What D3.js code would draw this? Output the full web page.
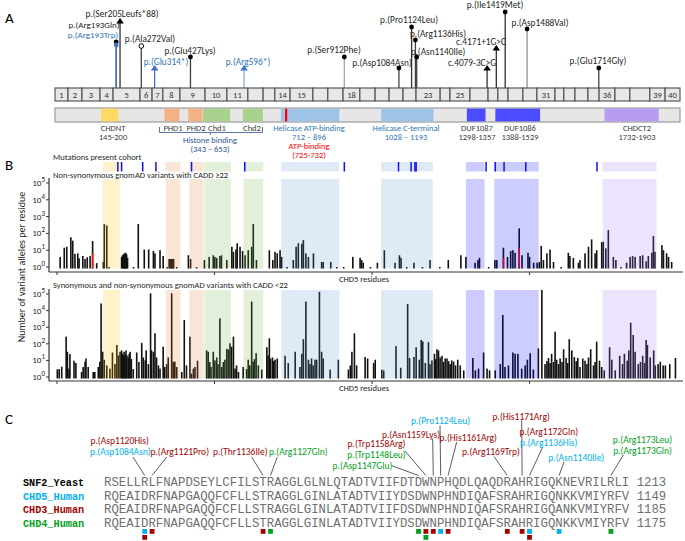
<!DOCTYPE html>
<html><head><meta charset="utf-8">
<script src="https://cdn.jsdelivr.net/npm/d3@7"></script>
<style>body{margin:0;background:#fff}svg{display:block}</style>
</head><body><svg id="c" width="685" height="541"></svg>
<script>
// ---------------- DATA ----------------
const proteinExtent = 1970;
const exonBounds = [0,41,85,142,183,268,306,340,394,473,542,608,656,693,741,813,860,908,961,1009,1053,1097,1138,1214,1245,1308,1365,1396,1428,1475,1519,1576,1604,1639,1680,1715,1765,1812,1875,1923,1970];
const exonLabels = ["1","2","3","4","5","6","7","8","9","10","11","","","14","15","","","18","","","","","23","","25","","","","","","31","","","","","36","","","39","40"];

const domainNames  = ["CHDNT","PHD1","PHD2","Chd1","Chd2","Helicase ATP-binding","Helicase C-terminal","DUF1087","DUF1086","CHDCT2"];
const domainStarts = [145,345,420,467,592,712,1028,1298,1388,1732];
const domainEnds   = [200,392,465,552,655,896,1193,1357,1529,1903];
const domainKinds  = ["chdnt","phd","phd","chd","chd","hel","hel","duf","duf","chdct"];
const atpBinding = [725,732];

const cohortLabels   = ["p.(Arg193Gln)","p.(Arg193Trp)","p.(Ser205Leufs*88)","p.(Ala272Val)","p.(Glu314*)","p.(Glu427Lys)","p.(Arg596*)","p.(Ser912Phe)","p.(Asp1084Asn)","p.(Pro1124Leu)","p.(Arg1136His)","p.(Asn1140Ile)","c.4079-3C>G","c.4171+1G>C","p.(Ile1419Met)","p.(Asp1488Val)","p.(Glu1714Gly)"];
const cohortResidues = [193,193,205,272,314,427,596,912,1084,1124,1136,1140,1362,1391,1419,1488,1714];
const cohortMarkers  = ["dot","dot","tri","open","tri","dot","tri","dot","dot","dot","dot","dot","tri","tri","dot","dot","dot"];
const cohortBlue     = [false,true,false,false,true,false,true,false,false,false,false,false,false,false,false,false,false];

// non-synonymous gnomAD variants with CADD >= 22 : [residue, alleles]
const nonSynHigh = [[10,4],[23,14],[31,16],[44,59],[50,37],[57,6],[66,6.5],[70,3.3],[82,4.5],[89,3],[96,3.8],[105,4.5],[113,35],[126,1.7],
[147,2],[150,360],[158,300],[165,1],[205,4],[208,5],[211,5.5],[213,6],[215,6.5],[217,7],[219,6.5],[221,5.5],[224,3.5],[243,1],[258,360],
[277,11],[291,11],[306,9],[311,6.5],[327,10],[337,4.5],[350,1],[356,3],[359,3],[362,3],[365,3],[368,3],[370,3],[380,1],[417,5],[424,3],[443,1],
[468,2.6],[483,4],[496,5],[501,4],[507,3.5],[517,4.5],[522,5],[539,2.6],[555,16],[560,8],[568,11],[572,26],[581,16],[589,9],[597,5],[607,10],
[618,16],[623,360],[633,2.6],[674,10],[685,2.6],[692,8],[699,6.5],[708,10],[713,4],[730,1],[750,2.6],[759,16],[766,26],[777,24],[782,40],
[790,6.5],[798,4],[814,6.5],[840,2],[845,2],[869,2],[888,1],[910,1],[939,4],[962,3.5],[967,2.6],[972,1.8],[995,1],[1017,1.8],[1039,10],
[1073,1.8],[1087,5],[1092,3.5],[1110,1],[1133,1.8],[1160,1],[1184,2.6],[1215,1],[1242,2.6],[1282,5],[1298,4],[1327,1.8],[1336,2.6],[1341,3.5],
[1370,1],[1390,2.6],[1396,2.6],[1417,14],[1430,4],[1440,9],[1447,10],[1454,7],[1467,200],[1476,5],[1495,7],[1500,4],[1513,1.8],[1524,1.8],
[1531,2],[1537,18],[1544,2.6],[1555,6.5],[1565,11],[1576,2],[1600,1],[1623,7],[1628,4.5],[1639,3.5],[1655,1.8],[1660,2.6],[1676,6.5],[1687,16],
[1697,44],[1708,6.5],[1713,10],[1729,30],[1734,32],[1742,13],[1750,160],[1766,4],[1774,2.6],[1790,1],[1808,1.8],[1819,4],[1827,4.5],[1835,4],
[1851,4.5],[1859,5],[1870,2.2],[1877,4.5],[1888,7],[1893,70],[1898,8],[1920,20],[1925,10],[1935,6.5],[1941,4],[1951,2]];
// portions of bars coinciding with cohort variants (red)
const nonSynHighCohort = [[113,6.7],[1417,3.5],[1467,13]];

// synonymous and non-synonymous gnomAD variants with CADD < 22
const synLow = [[1,2.9],[7,3],[15,4.2],[29,270],[33,33],[38,3.2],[41,24],[54,9.6],[60,7],[78,2],[83,4],[89,8.4],[92,13],[99,4],[115,2],[120,2],
[131,4],[136,8.4],[140,27000],[145,33],[150,11],[158,5],[168,3.2],[176,30],[184,6],[190,85],[195,20],[200,33],[205,40],[208,25],[211,18],[213,33],
[216,22],[219,40],[222,20],[226,15],[229,25],[232,33],[236,12],[242,3],[253,30],[260,8],[269,115],[274,15],[280,10],[283,40],[290,6],[297,110000],
[300,40],[306,33],[311,430],[316,15],[322,5],[327,3.2],[337,67],[342,4],[348,6],[353,15],[364,110000],[369,8.4],[374,8.4],[380,4],[396,2],[404,2700],
[411,5],[422,270],[427,1.6],[433,3.2],[438,4],[446,9.6],[475,40],[480,33],[485,8],[489,4],[496,33],[501,10],[507,15],[511,6],[517,3400],[523,4],
[528,8],[533,11],[539,50],[544,45],[549,107],[554,67],[560,270],[565,3.2],[570,5],[576,2],[591,4],[602,3],[607,11],[612,5],[618,35000],[623,8.4],
[627,12],[632,27],[639,5],[650,2.8],[666,62],[670,20],[674,215],[678,13],[684,15],[688,9],[692,11],[699,13],[724,19],[734,7],[756,33],[771,4],
[777,25],[782,190],[790,35000],[798,11],[803,6],[808,13],[813,5],[819,11],[824,11],[833,135000],[840,33],[845,13],[867,2.8],[893,11],
[925,2.8],[931,5],[936,33],[944,430],[951,5],[978,16],[986,13],[1005,7],[1010,11],[1031,2.8],[1037,2.5],[1076,73],[1091,3.6],[1113,25000],
[1119,14],[1133,16],[1140,62],[1150,11],[1156,170],[1161,140],[1169,7],[1179,125],[1184,6],[1190,10],[1198,25],[1202,12],[1206,47],[1211,40],
[1216,15],[1222,19],[1227,8],[1232,13],[1238,13],[1243,9],[1248,6],[1253,10],[1259,8.4],[1265,5],[1272,11],[1280,5],[1291,2.5],[1320,14],
[1328,2.5],[1338,3.2],[1354,30],[1365,3.2],[1373,2.5],[1391,2.5],[1407,6],[1415,5500],[1422,4],[1433,5],[1447,30],[1454,25],[1463,25],[1475,3.2],
[1486,5],[1493,11],[1502,27],[1512,2.8],[1528,53],[1539,175000],[1549,6],[1555,9],[1560,14],[1565,7],[1570,25],[1576,8],[1581,530],[1586,11],
[1592,6],[1597,13],[1603,8],[1608,47],[1616,14],[1621,7],[1626,190],[1634,40],[1642,16],[1648,9],[1653,14],[1660,4],[1669,13],[1676,9.6],
[1682,6],[1687,15],[1694,47],[1703,5],[1708,8],[1713,135],[1722,9.6],[1729,4],[1737,2.5],[1754,62],[1761,11],[1772,2.5],[1786,19],[1795,6],
[1801,25],[1810,9.6],[1815,40],[1821,1850],[1829,340],[1835,33],[1845,6],[1852,8],[1859,19],[1865,7],[1870,170],[1874,85],[1883,15],[1894,40],
[1899,5],[1908,6],[1915,8.4],[1924,5],[1931,5],[1945,6],[1963,14]];

const yTickExponents = [0,1,2,3,4,5];
const xTickResidues = [0,500,1000,1500];

// Panel C alignment
const alignNames = ["SNF2_Yeast","CHD5_Human","CHD3_Human","CHD4_Human"];
const alignSeqs = [
 "RSELLRLFNAPDSEYLCFILSTRAGGLGLNLQTADTVIIFDTDWNPHQDLQAQDRAHRIGQKNEVRILRLI",
 "RQEAIDRFNAPGAQQFCFLLSTRAGGLGINLATADTVIIYDSDWNPHNDIQAFSRAHRIGQNKKVMIYRFV",
 "RQEAIDRFNAPGAQQFCFLLSTRAGGLGINLATADTVIIFDSDWNPHNDIQAFSRAHRIGQANKVMIYRFV",
 "RQEAIDRFNAPGAQQFCFLLSTRAGGLGINLATADTVIIYDSDWNPHNDIQAFSRAHRIGQNKKVMIYRFV"];
const alignEnds = ["1213","1149","1185","1175"];
const alignGroups = ["yeast","chd5","chd3","chd4"];
// mutations: label, alignment column, gene
const alignMutLabels = ["p.(Asp1120His)","p.(Asp1084Asn)","p.(Arg1121Pro)","p.(Thr1136Ile)","p.(Arg1127Gln)","p.(Asp1147Glu)","p.(Trp1148Leu)","p.(Trp1158Arg)","p.(Asn1159Lys)","p.(Pro1124Leu)","p.(His1161Arg)","p.(His1171Arg)","p.(Arg1169Trp)","p.(Arg1172Gln)","p.(Arg1136His)","p.(Asn1140Ile)","p.(Arg1173Leu)","p.(Arg1173Gln)"];
const alignMutCols   = [5,5,6,21,22,42,43,43,44,45,46,56,54,57,57,61,68,68];
const alignMutGenes  = ["chd3","chd5","chd3","chd3","chd4","chd4","chd4","chd3","chd3","chd5","chd3","chd3","chd3","chd3","chd5","chd5","chd4","chd4"];

// ---------------- STYLE / LAYOUT ----------------
const FONT = "Carlito, Calibri, Lato, 'Liberation Sans', sans-serif";
const MONO = "'Liberation Mono', 'DejaVu Sans Mono', monospace";
const kindFill = {chdnt:"#ffd966", phd:"#f4b183", chd:"#a9d18e", hel:"#9dc3e6", duf:"#4b4bff", chdct:"#b89cf2"};
const kindBand = {chdnt:"#ffc000", phd:"#ed7d31", chd:"#70ad47", hel:"#5b9bd5", duf:"#0000ff", chdct:"#9c78f0"};
const geneColor = {yeast:"#000000", chd5:"#00b0f0", chd3:"#a50000", chd4:"#00a020"};
const BLUE = "#2e75b6";

// lollipop layout: head y, label centre x, label baseline
const lolHead = [42,45,19,46,66,57,66,57,68,27,40,57,66,46,12,29,68];
const lolLabX = [94,93,122,150,166,190,248,334,382,409,438,438,472,481,495,540,598];
const lolLabY = [27.5,38,17,42,65,54,65,53,66,23,37,55,66,45,8,26,64];
const lolSize = [9,9,9.3,9.3,9.3,9.3,9.3,9.3,9.3,9.3,9.3,9.3,9.3,9.3,9.3,9.3,9.3];
const lolStem = ["#404040","#4472c4","#303030","#404040","#4472c4","#404040","#8faadc","#a6a6a6","#404040","#303030","#404040","#404040","#303030","#303030","#303030","#909090","#404040"];

const svg = d3.select("#c");
svg.append("rect").attr("width",685).attr("height",541).attr("fill","#fff");

function txt(g, x, y, s, opt={}) {
  return g.append("text").attr("x",x).attr("y",y).text(s)
    .attr("font-family", opt.family||FONT).attr("font-size", opt.size||9)
    .attr("fill", opt.color||"#262626").attr("text-anchor", opt.anchor||"middle")
    .attr("font-weight", opt.weight||"normal");
}

// panel letters
txt(svg,5,23,"A",{size:15,anchor:"start",color:"#000"});
txt(svg,5,170,"B",{size:15,anchor:"start",color:"#000"});
txt(svg,5,424,"C",{size:15,anchor:"start",color:"#000"});

// ---------------- PANEL A ----------------
const xA = d3.scaleLinear().domain([0, proteinExtent]).range([55, 680]);
const gA = svg.append("g");
const exonTop = 88, exonBot = 101, domTop = 108, domBot = 122;

const lolIdx = d3.range(cohortLabels.length);
gA.selectAll("line.stem").data(lolIdx).join("line")
  .attr("x1", i=>xA(cohortResidues[i])).attr("x2", i=>xA(cohortResidues[i]))
  .attr("y1", i=>lolHead[i]).attr("y2", exonTop)
  .attr("stroke", i=>lolStem[i]).attr("stroke-width",1.3);

lolIdx.forEach(i=>{
  const x = xA(cohortResidues[i]), y = lolHead[i];
  const col = cohortBlue[i] ? "#4472c4" : "#000";
  if (cohortMarkers[i]==="dot") gA.append("circle").attr("cx",x).attr("cy",y).attr("r",2.4).attr("fill",col);
  else if (cohortMarkers[i]==="open") gA.append("circle").attr("cx",x).attr("cy",y).attr("r",2.3).attr("fill","#fff").attr("stroke","#000").attr("stroke-width",1);
  else gA.append("path").attr("d",`M${x},${y-1} L${x+3.8},${y+4.5} L${x-3.8},${y+4.5} Z`).attr("fill",col);
  txt(gA, lolLabX[i], lolLabY[i], cohortLabels[i], {size:lolSize[i], color: cohortBlue[i] ? BLUE : "#262626"});
});

const exIdx = d3.range(exonLabels.length);
gA.selectAll("rect.ex").data(exIdx).join("rect")
  .attr("x", i=>xA(exonBounds[i])).attr("y", exonTop)
  .attr("width", i=>xA(exonBounds[i+1])-xA(exonBounds[i])).attr("height", exonBot-exonTop)
  .attr("fill","#e7e7e7").attr("stroke","#4d4d4d").attr("stroke-width",1.1);
exIdx.forEach(i=>{
  if (exonLabels[i]) txt(gA,(xA(exonBounds[i])+xA(exonBounds[i+1]))/2, exonBot-3.5, exonLabels[i],{size:8.5,color:"#333"});
});

gA.append("rect").attr("x",xA(0)).attr("y",domTop).attr("width",xA(proteinExtent)-xA(0)).attr("height",domBot-domTop)
  .attr("fill","#e6e6e6").attr("stroke","#9a9a9a").attr("stroke-width",1.2);
domainNames.forEach((n,i)=>{
  gA.append("rect").attr("x",xA(domainStarts[i])).attr("y",domTop+0.6).attr("width",xA(domainEnds[i])-xA(domainStarts[i]))
    .attr("height",domBot-domTop-1.2).attr("fill",kindFill[domainKinds[i]]);
});
gA.append("rect").attr("x",xA(atpBinding[0])).attr("y",domTop+0.6).attr("width",Math.max(1.8,xA(atpBinding[1])-xA(atpBinding[0])))
  .attr("height",domBot-domTop-1.2).attr("fill","#ff0000");

const dl = [
 ["CHDNT",113,131,"#404040"],["145-200",113,140,"#404040"],
 ["PHD1",173,131,"#404040"],["PHD2",196,131,"#404040"],["Chd1",217,131,"#404040"],["Chd2",252,131,"#404040"],
 ["Histone binding",210,143,"#2f5597"],["(343 – 653)",210,152,"#2f5597"],
 ["Helicase ATP-binding",309,131,BLUE],["712 – 896",309,140,BLUE],["ATP-binding",309,149,"#ff0000"],["(725-732)",309,158,"#ff0000"],
 ["Helicase C-terminal",406,131,BLUE],["1028 – 1193",406,140,BLUE],
 ["DUF1087",477,131,"#404040"],["1298-1357",477,140,"#404040"],
 ["DUF1086",520,131,"#404040"],["1388-1529",520,140,"#404040"],
 ["CHDCT2",637,131,"#404040"],["1732-1903",637,140,"#404040"]];
dl.forEach(d=>txt(gA,d[1],d[2],d[0],{size:8.5,color:d[3]}));
gA.append("path").attr("d","M159.5,127 L159.5,132.5 L262.5,132.5 L262.5,127 M210.5,132.5 L210.5,135")
  .attr("fill","none").attr("stroke","#2f5597").attr("stroke-width",0.8);

// ---------------- PANEL B ----------------
const xB = d3.scaleLinear().domain([0,1987]).range([57,683]);
const gB = svg.append("g");
const axisX0 = 49;

txt(gB,53,160,"Mutations present cohort",{size:8.5,anchor:"start"});
const trackTop = 162, trackBot = 171.5;

function drawPlot(yTop, yBase, y10, bars, redBars, title, titleY, axisY) {
  const y = d3.scaleLog().domain([1,1e5]).range(y10);
  const base = yBase;
  gB.selectAll(null).data(bars).join("rect")
    .attr("x", d=>xB(d[0])-0.8).attr("width",1.6)
    .attr("y", d=>Math.min(y(d[1]), base-0.8)).attr("height", d=>Math.max(0.8, base - y(d[1])))
    .attr("fill","#111");
  gB.selectAll(null).data(redBars).join("rect")
    .attr("x", d=>xB(d[0])-0.8).attr("width",1.6)
    .attr("y", d=>y(d[1])).attr("height", d=>base - y(d[1])).attr("fill","#ff1010");
  domainNames.forEach((n,i)=>{
    gB.append("rect").attr("x",xB(domainStarts[i])).attr("y",yTop).attr("width",xB(domainEnds[i])-xB(domainStarts[i]))
      .attr("height",base-yTop).attr("fill",kindBand[domainKinds[i]]).attr("fill-opacity",0.2);
  });
  gB.append("line").attr("x1",axisX0).attr("x2",683).attr("y1",axisY).attr("y2",axisY).attr("stroke","#333").attr("stroke-width",1.2);
  gB.append("line").attr("x1",axisX0).attr("x2",axisX0).attr("y1",yTop-1).attr("y2",axisY).attr("stroke","#333").attr("stroke-width",1.2);
  xTickResidues.forEach(r=>gB.append("line").attr("x1",xB(r)).attr("x2",xB(r)).attr("y1",axisY).attr("y2",axisY+3).attr("stroke","#333"));
  yTickExponents.forEach(e=>{
    const yy = y(Math.pow(10,e));
    gB.append("line").attr("x1",axisX0-3).attr("x2",axisX0).attr("y1",yy).attr("y2",yy).attr("stroke","#333");
    const t = gB.append("text").attr("x",axisX0-4).attr("y",yy+3).attr("text-anchor","end")
      .attr("font-family",FONT).attr("font-size",9).attr("fill","#262626");
    t.append("tspan").text("10");
    t.append("tspan").attr("dy",-4).attr("font-size",7).text(String(e));
  });
  txt(gB,53,titleY,title,{size:8.5,anchor:"start"});
  txt(gB,364,axisY+10,"CHD5 residues",{size:8.5});
}

domainNames.forEach((n,i)=>{
  gB.append("rect").attr("x",xB(domainStarts[i])).attr("y",trackTop).attr("width",xB(domainEnds[i])-xB(domainStarts[i]))
    .attr("height",trackBot-trackTop).attr("fill",kindBand[domainKinds[i]]).attr("fill-opacity",0.2);
});
Array.from(new Set(cohortResidues)).forEach(r=>{
  gB.append("rect").attr("x",xB(r)-0.75).attr("y",trackTop).attr("width",1.5).attr("height",trackBot-trackTop).attr("fill","#1010ff");
});

drawPlot(179, 268.5, [267,183], nonSynHigh, nonSynHighCohort, "Non-synonymous gnomAD variants with CADD ≥22", 178, 272);
drawPlot(290, 378.5, [377,294], synLow, [], "Synonymous and non-synonymous gnomAD variants with CADD <22", 288, 381);

gB.append("text").attr("transform","translate(25,267) rotate(-90)").attr("text-anchor","middle")
  .attr("font-family",FONT).attr("font-size",10).attr("fill","#262626").text("Number of variant alleles per residue");

// ---------------- PANEL C ----------------
const gC = svg.append("g");
const seqX0 = 104, charW = 7.4, rowBase = [486,499.5,513,526.5];
const colX = c => seqX0 + (c+0.5)*charW;
alignNames.forEach((n,i)=>{
  txt(gC,23,rowBase[i],n,{family:MONO,size:10.2,anchor:"start",weight:"bold",color:geneColor[alignGroups[i]]});
  txt(gC,seqX0,rowBase[i],alignSeqs[i]+" "+alignEnds[i],{family:MONO,size:12.33,anchor:"start",color:"#6f6f6f"});
});

const cLab = [[119.7,444.3],[120.3,455.2],[179.7,455.2],[240.3,455.2],[298.3,455.2],[362.5,469],[376.5,458],[376.5,447.3],[411,437.5],
  [440.5,424.2],[468.3,440.8],[521.2,419.5],[491,455.2],[548.8,434.8],[548.8,445.8],[576.3,460.8],[642.5,442.8],[642.5,453.8]];
const cPtr = [null,[133,457],[166.7,457],[251.7,457],[277.3,457],[391.7,465.7],[405,451],null,[432.7,438.5],
  [440,425.5],[456.7,442],[521.7,420.5],[494,456.5],[542.7,447],null,[564,462],[623.3,455]];
alignMutLabels.forEach((l,i)=>{
  txt(gC,cLab[i][0],cLab[i][1],l,{size:9.5,color:geneColor[alignMutGenes[i]]});
  if (cPtr[i]) gC.append("line").attr("x1",cPtr[i][0]).attr("y1",cPtr[i][1]).attr("x2",colX(alignMutCols[i])).attr("y2",475.5)
     .attr("stroke","#333").attr("stroke-width",0.8);
});

const geneOrder = ["chd5","chd3","chd4"];
const sq = d3.rollup(alignMutCols.map((c,i)=>({c, g:alignMutGenes[i]})), v=>Array.from(new Set(v.map(d=>d.g))).sort((a,b)=>geneOrder.indexOf(a)-geneOrder.indexOf(b)), d=>d.c);
sq.forEach((genes,c)=>{
  genes.forEach((g,k)=>{
    gC.append("rect").attr("x",colX(c)-2.4).attr("y",529+k*6).attr("width",4.8).attr("height",4.8).attr("fill",geneColor[g]);
  });
});
</script></body></html>
